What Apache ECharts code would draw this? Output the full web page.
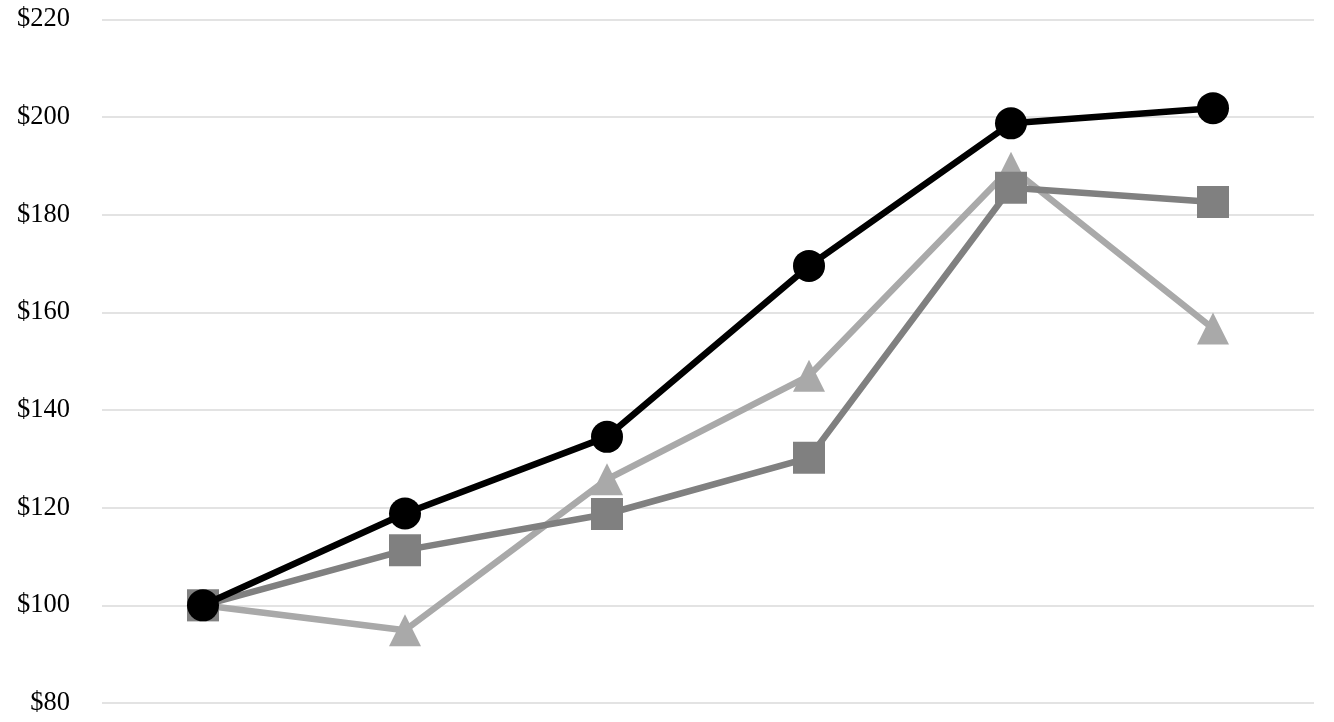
<!DOCTYPE html>
<html>
<head>
<meta charset="utf-8">
<script src="https://cdn.jsdelivr.net/npm/echarts@6/dist/echarts.min.js"></script>
<style>
html, body { margin: 0; padding: 0; background: #fff; }
#main { width: 1334px; height: 722px; }
</style>
</head>
<body>
<div id="main"></div>
<script>
var categories = ['1', '2', '3', '4', '5', '6'];
var circleValues = [100, 118.8, 134.5, 169.5, 198.7, 201.8];
var squareValues = [100, 111.3, 118.7, 130.2, 185.5, 182.6];
var triangleValues = [100, 94.9, 125.8, 147, 189.6, 156.7];
var yTicks = [80, 100, 120, 140, 160, 180, 200, 220];

var mainChart = echarts.init(document.getElementById('main'));

function lineSeries(name, data, color, symbol, z) {
	return {
		name: name,
		type: 'line',
		data: data,
		symbol: symbol,
		symbolSize: 32,
		z: z,
		lineStyle: { color: color, width: 6.5 },
		itemStyle: { color: color },
		animation: false
	};
}

var chartOpt = {
	animation: false,
	grid: { left: 102, right: 20, top: 19.3, bottom: 19 },
	xAxis: {
		type: 'category',
		data: categories,
		boundaryGap: true,
		axisLine: { show: false },
		axisTick: { show: false },
		axisLabel: { show: false }
	},
	yAxis: {
		type: 'value',
		min: yTicks[0],
		max: yTicks[yTicks.length - 1],
		interval: 20,
		axisLine: { show: false },
		axisTick: { show: false },
		axisLabel: {
			margin: 32,
			color: '#000',
			fontFamily: 'Liberation Serif',
			fontSize: 26.5,
			formatter: function (v) { return '$' + v; }
		},
		splitLine: { lineStyle: { color: '#e3e3e3', width: 2 } }
	},
	series: [
		lineSeries('C', triangleValues, '#a9a9a9', 'triangle', 2),
		lineSeries('B', squareValues, '#808080', 'rect', 3),
		lineSeries('A', circleValues, '#000000', 'circle', 4)
	]
};

mainChart.setOption(chartOpt);
</script>
</body>
</html>
